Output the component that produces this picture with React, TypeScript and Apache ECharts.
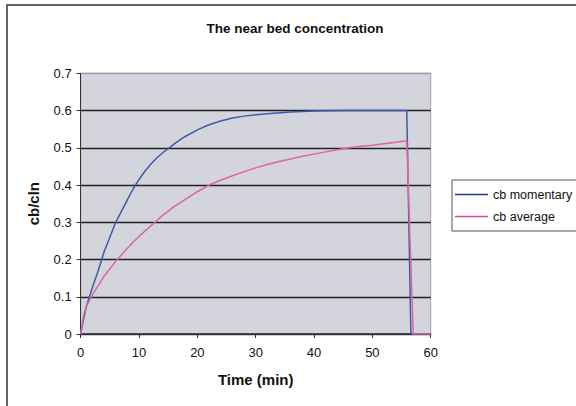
import React, { useEffect, useRef } from "react";
import * as echarts from "echarts";

const chartTitle = "The near bed concentration";
const xAxisName = "Time (min)";
const yAxisName = "cb/cln";
const seriesNames = ["cb momentary", "cb average"];

const momentaryTime = [0, 0.5, 1, 1.5, 2, 3, 4, 5, 6, 7, 8, 9, 10, 11, 12, 13, 14, 15, 16, 17, 18, 20, 22, 24, 26, 28, 30, 33, 36, 40, 45, 50, 55.9, 56.6, 60];
const momentaryValues = [0, 0.04, 0.075, 0.1, 0.125, 0.17, 0.22, 0.26, 0.3, 0.33, 0.36, 0.39, 0.415, 0.437, 0.456, 0.472, 0.486, 0.498, 0.51, 0.521, 0.531, 0.548, 0.562, 0.572, 0.58, 0.585, 0.589, 0.593, 0.596, 0.599, 0.6, 0.6, 0.6, 0, 0];

const averageTime = [0, 0.5, 1, 2, 3, 4, 5, 6, 7, 8, 9, 10, 12, 14, 16, 18, 20, 22, 24, 26, 28, 30, 32, 34, 36, 38, 40, 42, 44, 46, 48, 50, 52, 54, 55.9, 57, 60];
const averageValues = [0, 0.05, 0.075, 0.105, 0.13, 0.155, 0.175, 0.195, 0.213, 0.23, 0.247, 0.262, 0.29, 0.318, 0.342, 0.362, 0.382, 0.4, 0.413, 0.425, 0.436, 0.446, 0.455, 0.463, 0.47, 0.477, 0.483, 0.489, 0.495, 0.5, 0.504, 0.507, 0.511, 0.515, 0.519, 0, 0];

const zip = (xs: number[], ys: number[]) => xs.map((x, i) => [x, ys[i]]);

const FONT = "'Liberation Sans', Arial, sans-serif";

export default function App() {
  const ref = useRef<HTMLDivElement>(null);
  useEffect(() => {
    if (!ref.current) return;
    const chart = echarts.init(ref.current, null, { renderer: "svg" });
    const gridColors = ["#333", "#222", "#222", "#222", "#222", "#222", "#222", "#9a9aa4"];
    chart.setOption({
      animation: false,
      backgroundColor: "#ffffff",
      textStyle: { fontFamily: FONT },
      title: {
        text: chartTitle,
        left: 290,
        top: 16,
        textAlign: "center",
        textStyle: { fontFamily: FONT, fontSize: 13.5, fontWeight: "bold", color: "#111" },
      },
      graphic: [
        {
          type: "rect",
          shape: { x: 7, y: 5, width: 600, height: 420 },
          style: { fill: "none", stroke: "#333", lineWidth: 1.5 },
          silent: true,
        },
      ],
      legend: {
        orient: "vertical",
        left: 452,
        top: 180,
        width: 123,
        data: seriesNames,
        icon: "rect",
        borderColor: "#555",
        borderWidth: 1,
        padding: [8, 8, 8, 3],
        itemGap: 9,
        itemWidth: 33,
        itemHeight: 1.5,
        textStyle: { fontFamily: FONT, fontSize: 12.5, color: "#111" },
      },
      grid: {
        left: 80.7,
        top: 73.3,
        width: 350,
        height: 260.7,
        show: true,
        backgroundColor: "#d3d4dc",
        borderColor: "#a0a0a8",
        borderWidth: 1,
      },
      xAxis: {
        type: "value",
        min: 0,
        max: 60,
        interval: 10,
        name: xAxisName,
        nameLocation: "middle",
        nameGap: 38,
        nameTextStyle: { fontFamily: FONT, fontSize: 15, fontWeight: "bold", color: "#111" },
        axisLine: { show: true, onZero: false, lineStyle: { color: "#333", width: 1.5 } },
        axisTick: { show: true, length: 4, lineStyle: { color: "#333" } },
        axisLabel: { fontFamily: FONT, fontSize: 13, color: "#111", margin: 12 },
        splitLine: { show: false },
      },
      yAxis: {
        type: "value",
        min: 0,
        max: 0.7,
        interval: 0.1,
        name: yAxisName,
        nameLocation: "middle",
        nameGap: 40,
        nameRotate: 90,
        nameTextStyle: { fontFamily: FONT, fontSize: 15, fontWeight: "bold", color: "#111" },
        axisLine: { show: true, lineStyle: { color: "#333", width: 1 } },
        axisTick: { show: true, length: 4, lineStyle: { color: "#333" } },
        axisLabel: {
          fontFamily: FONT,
          fontSize: 13,
          color: "#111",
          margin: 9,
          formatter: (v: number) => (v === 0 ? "0" : v.toFixed(1)),
        },
        splitLine: { show: true, lineStyle: { color: gridColors, width: 1.3 } },
      },
      series: [
        {
          name: seriesNames[0],
          type: "line",
          data: zip(momentaryTime, momentaryValues),
          symbol: "none",
          showSymbol: false,
          lineStyle: { color: "#3b5ca6", width: 1.5 },
          itemStyle: { color: "#2a3f80" },
        },
        {
          name: seriesNames[1],
          type: "line",
          data: zip(averageTime, averageValues),
          symbol: "none",
          showSymbol: false,
          lineStyle: { color: "#e0649f", width: 1.5 },
          itemStyle: { color: "#e0409e" },
        },
      ],
    });
    return () => chart.dispose();
  }, []);
  return (
    <div
      ref={ref}
      style={{ position: "fixed", left: 0, top: 0, width: 576, height: 406 }}
    />
  );
}
